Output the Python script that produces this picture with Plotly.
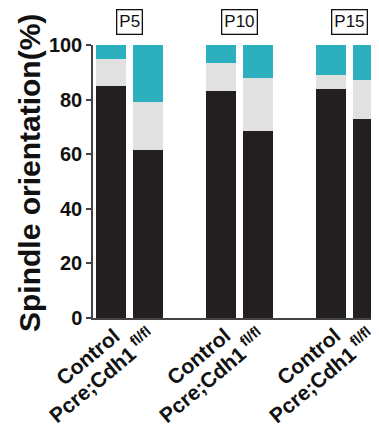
import plotly.graph_objects as go

groups = ["P5", "P10", "P15"]
bar_labels = ["Control", "Pcre;Cdh1<sup> fl/fl</sup>"]
# stacked segment values (%), order: P5 Ctrl, P5 Pcre, P10 Ctrl, P10 Pcre, P15 Ctrl, P15 Pcre
black_vals = [85.0, 61.5, 83.0, 68.5, 84.0, 73.0]
gray_vals = [10.0, 17.5, 10.5, 19.5, 5.0, 14.0]
teal_vals = [5.0, 21.0, 6.5, 12.0, 11.0, 13.0]
y_ticks = [0, 20, 40, 60, 80, 100]
y_title = "Spindle orientation(%)"

colors = ["#231f20", "#e1e1e1", "#2cb0be"]
FONT = "Liberation Sans"

xpos = []
xlab = []
for g in range(len(groups)):
    for b in range(len(bar_labels)):
        xpos.append(g * 3 + b)
        xlab.append(b)

fig = go.Figure()
for vals, c in zip([black_vals, gray_vals, teal_vals], colors):
    fig.add_trace(go.Bar(x=xpos, y=vals, marker=dict(color=c, line=dict(width=0)),
                         width=0.817, showlegend=False))

for g, name in enumerate(groups):
    fig.add_annotation(x=g * 3 + 0.5, y=1.086, xref="x", yref="paper", text=name,
                       xanchor="center", yanchor="middle",
                       showarrow=False, font=dict(family=FONT, size=17, color="#111"),
                       bordercolor="#111", borderwidth=1.3, borderpad=2, bgcolor="white")

# rotated bar labels (centre-anchored, shifted in px)
shifts = {0: (-23, -38), 1: (-46, -57)}
for x, b in zip(xpos, xlab):
    xs, ys = shifts[b]
    fig.add_annotation(x=x, y=0, xref="x", yref="paper", text=bar_labels[b],
                       textangle=-40, showarrow=False, xanchor="center", yanchor="middle",
                       xshift=xs, yshift=ys, borderpad=0,
                       font=dict(family=FONT, size=21, color="#111", weight="bold"))

# y-axis title
fig.add_annotation(x=-0.224, y=0.531, xref="paper", yref="paper", text=y_title,
                   textangle=-90, showarrow=False, xanchor="center", yanchor="middle",
                   font=dict(family=FONT, size=30, color="#111", weight="bold"))

fig.update_layout(
    width=371, height=424, barmode="stack",
    margin=dict(l=85, r=0, t=37, b=114),
    plot_bgcolor="white", paper_bgcolor="white",
    bargap=0,
)
fig.update_xaxes(range=[-0.49, 7.30], showticklabels=False, automargin=False,
                 showline=True, linecolor="#444", linewidth=1.5, ticks="", showgrid=False,
                 zeroline=False)
fig.update_yaxes(range=[0, 100], tickvals=y_ticks, showline=True, automargin=False,
                 linecolor="#444", linewidth=1.5, ticks="outside", ticklen=5, tickwidth=1.5,
                 tickcolor="#444", showgrid=False, zeroline=False,
                 tickfont=dict(family=FONT, size=20, color="#111", weight="bold"))

fig.write_html("out.html")
